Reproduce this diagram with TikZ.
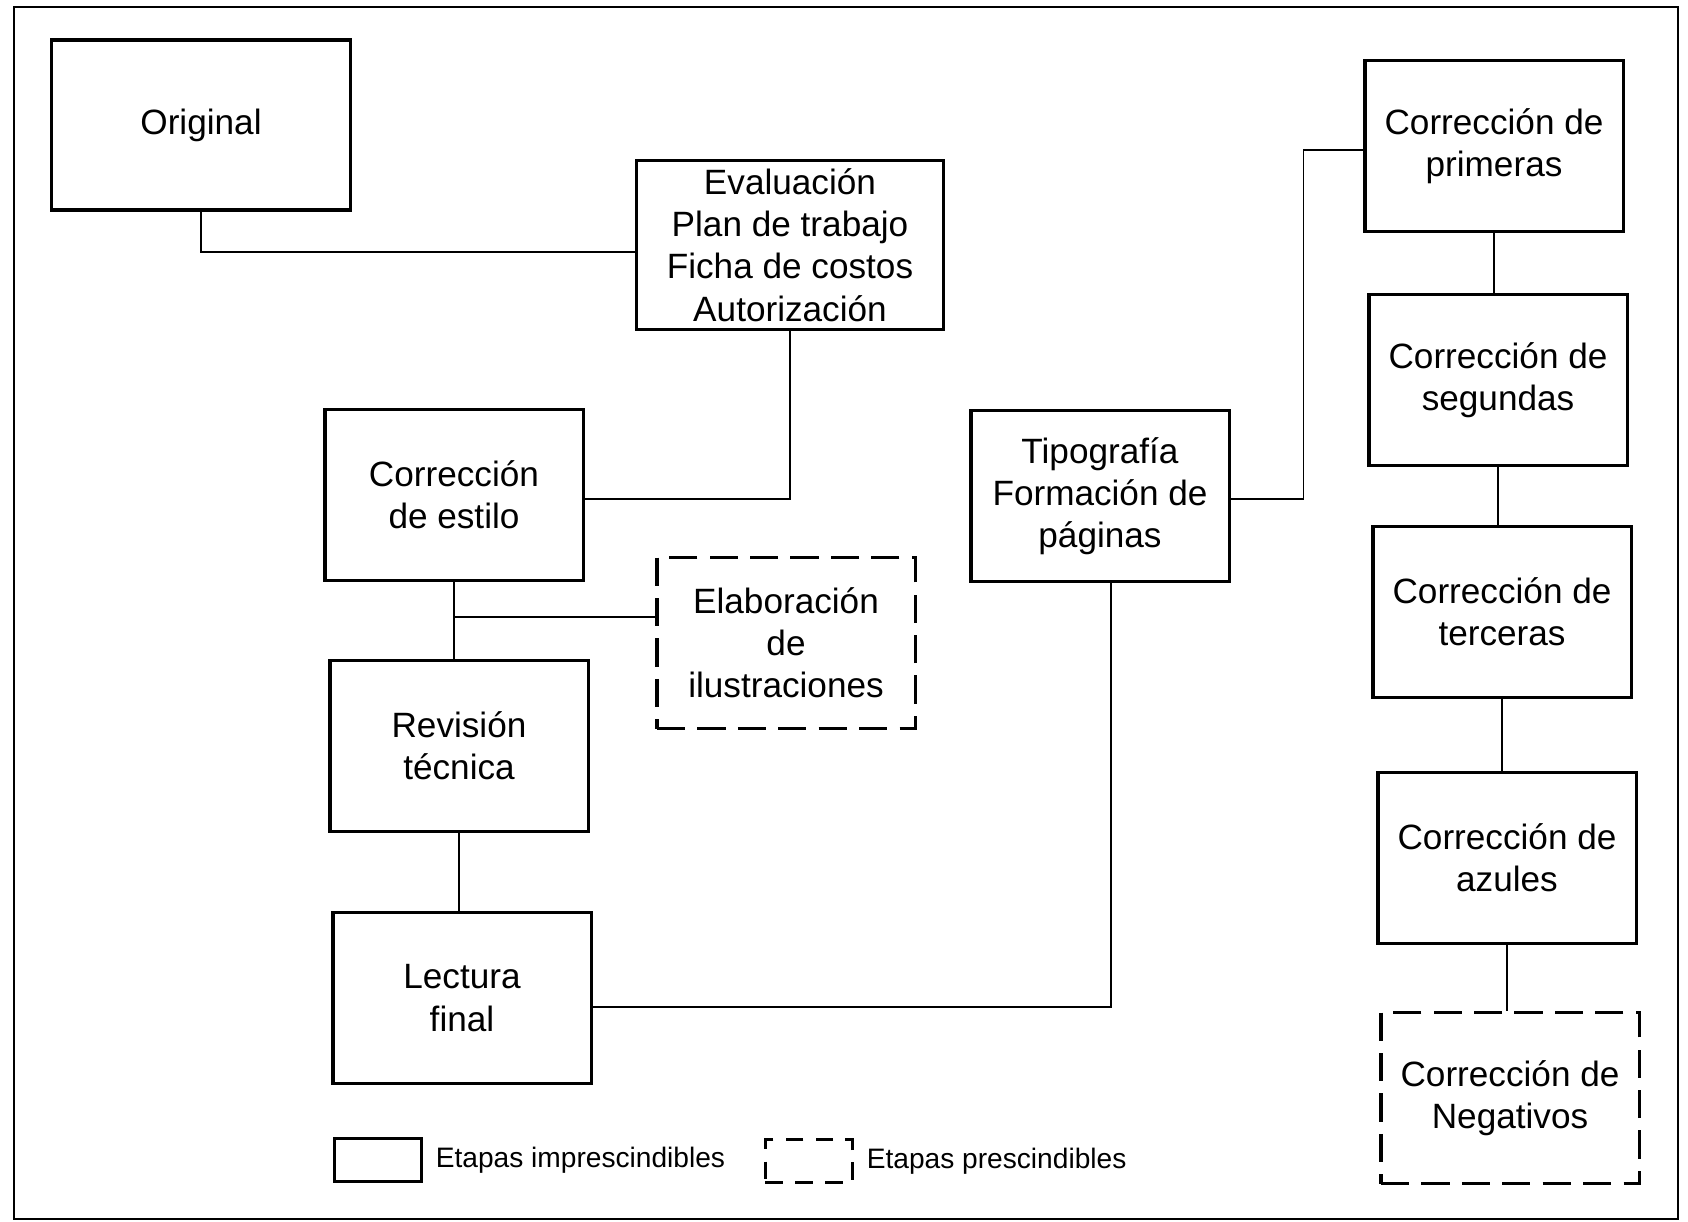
\documentclass[tikz,border=0pt]{standalone}
\usepackage{fontspec}
\setmainfont{Liberation Sans}
\usetikzlibrary{positioning}

\tikzset{
    etapa/.style = {draw, line width=0.9pt, align=center, inner sep=0pt,
        minimum width=2.58cm, minimum height=1.71cm,
        font=\fontsize{10}{12}\selectfont},
    opcional/.style = {etapa, dash pattern=on 8pt off 3.5pt},
    enlace/.style = {line width=0.45pt},
    clave/.style = {draw, line width=0.9pt, minimum width=0.87cm, minimum height=0.43cm, inner sep=0pt},
    leyenda/.style = {inner sep=0pt, font=\fontsize{8}{10}\selectfont}
}

\begin{document}
\begin{tikzpicture}[x=0.01cm, y=-0.01cm]
    \useasboundingbox (0,0) rectangle (1688,1221);
    \draw [line width=0.4pt] (14,7) rectangle (1678,1219);

    % columna izquierda
    \node (original) at (201,125) [etapa, minimum width=2.98cm, minimum height=1.70cm] {Original};
    \node (evaluacion) at (790,245) [etapa, minimum width=3.07cm, minimum height=1.69cm]
        {Evaluación\\Plan de trabajo\\Ficha de costos\\Autorización};
    \node (estilo) at (454,495) [etapa] {Corrección\\de estilo};
    \node (elaboracion) at (786,643) [opcional] {Elaboración\\de\\ilustraciones};
    \node (revision) at (459,746) [etapa] {Revisión\\técnica};
    \node (lectura) at (462,998) [etapa] {Lectura\\final};
    \node (tipografia) at (1100,496) [etapa] {Tipografía\\Formación de\\páginas};

    % columna derecha
    \node (primeras) at (1494,146) [etapa] {Corrección de\\primeras};
    \node (segundas) at (1498,380) [etapa] {Corrección de\\segundas};
    \node (terceras) at (1502,612) [etapa] {Corrección de\\terceras};
    \node (azules) at (1507,858) [etapa] {Corrección de\\azules};
    \node (negativos) at (1510,1098) [opcional] {Corrección de\\Negativos};

    % conexiones
    \draw [enlace] (original.south) |- ([yshift=-0.07cm]evaluacion.west);
    \draw [enlace] (evaluacion.south) |- ([yshift=-0.04cm]estilo.east);
    \draw [enlace] (estilo.south) -- (revision.north -| estilo.south);
    \draw [enlace] (estilo.south) ++(0,35) coordinate (rama) -- (rama -| elaboracion.west);
    \draw [enlace] (revision.south) -- (lectura.north -| revision.south);
    \draw [enlace] ([yshift=-0.09cm]lectura.east) -| ([xshift=0.11cm]tipografia.south);
    \draw [enlace] ([yshift=-0.03cm]tipografia.east) -- ++(73,0) |- ([yshift=-0.04cm]primeras.west);
    \foreach \a/\b in {primeras/segundas, segundas/terceras, terceras/azules, azules/negativos}
        \draw [enlace] (\a.south) -- (\b.north -| \a.south);

    % leyenda
    \node (clave1) at (378,1160) [clave] {};
    \node [leyenda, right=0.12cm of clave1] {Etapas imprescindibles};
    \node (clave2) at (809,1161) [clave, dash pattern=on 5pt off 3.5pt] {};
    \node [leyenda, right=0.12cm of clave2] {Etapas prescindibles};
\end{tikzpicture}
\end{document}
